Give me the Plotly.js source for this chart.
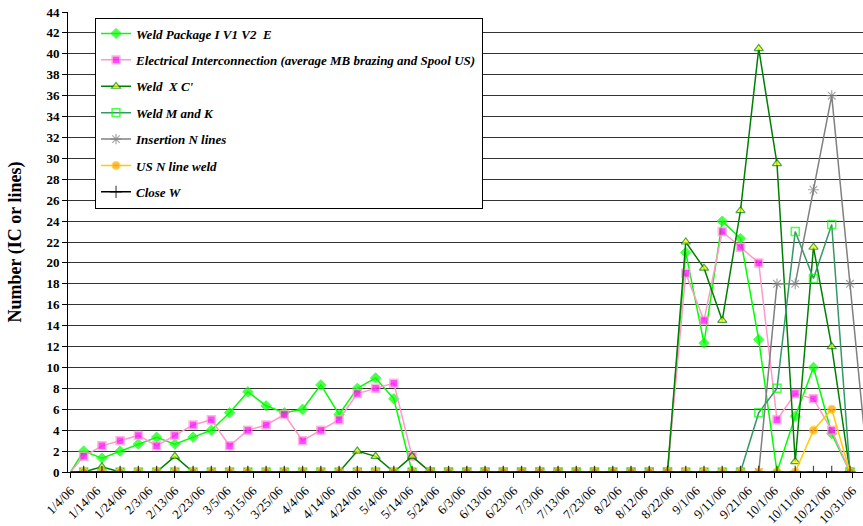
<!DOCTYPE html>
<html>
<head>
<meta charset="utf-8">
<script src="https://cdn.plot.ly/plotly-3.0.1.min.js"></script>
<style>
html,body{margin:0;padding:0;background:#fff;}
#chart{width:863px;height:526px;}
</style>
</head>
<body>
<div id="chart"></div>
<script>
// Dates: start point plus weekly readings
const dates = ['2006-01-04',
 '2006-01-09','2006-01-16','2006-01-23','2006-01-30','2006-02-06','2006-02-13','2006-02-20','2006-02-27',
 '2006-03-06','2006-03-13','2006-03-20','2006-03-27','2006-04-03','2006-04-10','2006-04-17','2006-04-24',
 '2006-05-01','2006-05-08','2006-05-15','2006-05-22','2006-05-29','2006-06-05','2006-06-12','2006-06-19',
 '2006-06-26','2006-07-03','2006-07-10','2006-07-17','2006-07-24','2006-07-31','2006-08-07','2006-08-14',
 '2006-08-21','2006-08-28','2006-09-04','2006-09-11','2006-09-18','2006-09-25','2006-10-02','2006-10-09',
 '2006-10-16','2006-10-23','2006-10-30','2006-11-06'];

const weldPackage = [0,
 2,1.33,2,2.67,3.33,2.67,3.33,4,
 5.67,7.67,6.33,5.67,6,8.33,5.5,8,
 9,7,0,0,0,0,0,0,
 0,0,0,0,0,0,0,0,
 0,21,12.33,24,22.33,12.67,0,5.33,
 10,3.67,0,null];

const electrical = [0,
 1.5,2.5,3,3.5,2.5,3.5,4.5,5,
 2.5,4,4.5,5.5,3,4,5,7.5,
 8,8.5,1.5,0,0,0,0,0,
 0,0,0,0,0,0,0,0,
 0,19,14.5,23,21.5,20,5,7.5,
 7,4,0,null];

const weldXC = [0,
 0,0.5,0,0,0,1.5,0,0,
 0,0,0,0,0,0,0,2,
 1.5,0,1.5,0,0,0,0,0,
 0,0,0,0,0,0,0,0,
 0,22,19.5,14.5,25,40.5,29.5,1,
 21.5,12,0,null];

const weldMK = [0,
 0,0,0,0,0,0,0,0,
 0,0,0,0,0,0,0,0,
 0,0,0,0,0,0,0,0,
 0,0,0,0,0,0,0,0,
 0,0,0,0,0,5.67,8,23,
 18.5,23.67,0,null];

const insertionN = [0,
 0,0,0,0,0,0,0,0,
 0,0,0,0,0,0,0,0,
 0,0,0,0,0,0,0,0,
 0,0,0,0,0,0,0,0,
 0,0,0,0,0,0,18,18,
 27,36,18,0];

const usNWeld = [0,
 0,0,0,0,0,0,0,0,
 0,0,0,0,0,0,0,0,
 0,0,0,0,0,0,0,0,
 0,0,0,0,0,0,0,0,
 0,0,0,0,0,0,0,0,
 4,6,0,null];

const closeW = [0,
 0,0,0,0,0,0,0,0,
 0,0,0,0,0,0,0,0,
 0,0,0,0,0,0,0,0,
 0,0,0,0,0,0,0,0,
 0,0,0,0,0,0,0,0,
 0,0,0,null];

const seriesNames = [
 'Weld Package I V1 V2  E',
 'Electrical Interconnection (average MB brazing and Spool US)',
 "Weld  X C'",
 'Weld M and K',
 'Insertion N lines',
 'US N line weld',
 'Close W'
];

const sizes = s => dates.map((d,i) => i === 0 ? 0 : s);

const styles = [
 {line:{color:'#00ff00',width:1.5}, marker:{symbol:'diamond',color:'#00ff00',size:sizes(8),line:{color:'#00ff00',width:1}}},
 {line:{color:'#ff99cc',width:1.5}, marker:{symbol:'square',color:'#ff00ff',size:sizes(8),line:{color:'#ff99cc',width:1.5}}},
 {line:{color:'#008000',width:1.5}, marker:{symbol:'triangle-up',color:'#ffff00',size:sizes(8),line:{color:'#008000',width:1.2}}},
 {line:{color:'#339966',width:1.5}, marker:{symbol:'square',color:'rgba(255,255,255,0)',size:sizes(8),line:{color:'#00ff00',width:1.5}}},
 {line:{color:'#808080',width:1.5}, marker:{symbol:'asterisk-open',color:'#808080',size:sizes(9),line:{color:'#808080',width:1.2}}},
 {line:{color:'#ffcc00',width:1.5}, marker:{symbol:'circle',color:'#ff9900',size:sizes(8),line:{color:'#ffcc00',width:1.2}}},
 {line:{color:'#000000',width:1.5}, marker:{symbol:'cross-thin-open',color:'#000000',size:sizes(9),line:{color:'#000000',width:1.2}}}
];

const values = [weldPackage, electrical, weldXC, weldMK, insertionN, usNWeld, closeW];

const traces = values.map((v,i) => ({
  type:'scatter', mode:'lines+markers',
  x: dates, y: v, name: seriesNames[i],
  legendgroup: 'g'+i,
  line: styles[i].line, marker: styles[i].marker,
  connectgaps:false, cliponaxis:true
}));

const serif = 'Liberation Serif, Times New Roman, serif';

const layout = {
  width:863, height:526,
  margin:{l:68, r:0, t:12, b:54},
  paper_bgcolor:'#ffffff', plot_bgcolor:'#ffffff',
  showlegend:true,
  legend:{
    x:0.034, y:0.988, xanchor:'left', yanchor:'top',
    bgcolor:'#ffffff', bordercolor:'#000000', borderwidth:1,
    font:{family:serif, size:13, color:'#000', weight:'bold', style:'italic'},
    tracegroupgap:6.5, itemwidth:30
  },
  xaxis:{
    type:'date',
    range:['2006-01-03 00:00','2006-11-04 00:00'],
    tick0:'2006-01-04', dtick:864000000,
    tickformat:'%-m/%-d/%y', tickangle:-45,
    ticks:'outside', ticklen:5, tickcolor:'#000',
    showline:true, linecolor:'#000', linewidth:1,
    showgrid:false, zeroline:false,
    tickfont:{family:serif, size:13, color:'#000'},
    automargin:false
  },
  yaxis:{
    range:[0,44], dtick:2, tick0:0,
    ticks:'outside', ticklen:5, tickcolor:'#000',
    showline:true, linecolor:'#000', linewidth:1,
    showgrid:true, gridcolor:'#333', gridwidth:1,
    zeroline:false,
    tickfont:{family:serif, size:13, color:'#000', weight:'bold'},
    title:{text:'Number (IC or lines)', font:{family:serif, size:18, color:'#000', weight:'bold'}, standoff:20},
    automargin:false
  }
};

Plotly.newPlot('chart', traces, layout, {displayModeBar:false, staticPlot:true});
</script>
</body>
</html>
